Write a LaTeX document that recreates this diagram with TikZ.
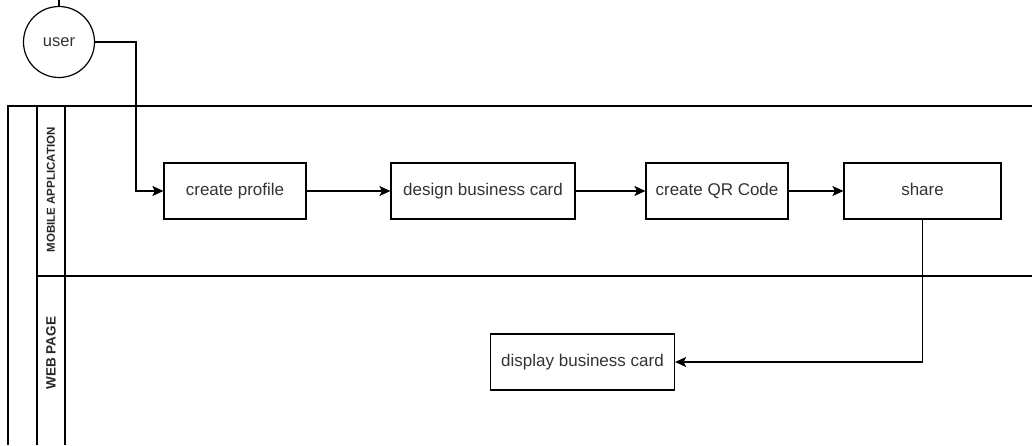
\documentclass[tikz,border=0pt]{standalone}
\usepackage{fontspec}
\setmainfont{Liberation Sans}
\usepackage{xcolor}
\usetikzlibrary{arrows.meta, positioning}

\begin{document}
\begin{tikzpicture}[x=1pt, y=-1pt, line width=1.2pt,
    caixa/.style={draw, minimum height=56pt, inner sep=0pt,
      text height=0.92em, text depth=0.1em,
      font=\fontsize{17}{20}\selectfont, text=black!80},
    seta/.style={-{Stealth[length=11pt, width=10pt, inset=2.5pt]}},
    raia/.style={text=black!85, rotate=90}]
  \useasboundingbox (0,0) rectangle (1032,445);
  % ator
  \node[draw, circle, minimum size=71pt, inner sep=0pt,
    font=\fontsize{16.5}{19}\selectfont, text=black!80] (user) at (59,42) {user};
  \coordinate (topo) at (59,0);
  \draw (topo) -- (user.north);
  % piscina e raias
  \draw (1032,106) -- (8,106) -- (8,445);
  \draw (37,106) -- (37,445);
  \draw (65,106) -- (65,445);
  \draw (37,276) -- (1032,276);
  \node[raia, font=\bfseries\fontsize{11.5}{13}\selectfont] (mobile) at (51,190) {MOBILE APPLICATION};
  \node[raia, font=\bfseries\fontsize{13.5}{15}\selectfont] (web) at (51,353) {WEB PAGE};
  % caixas
  \node[caixa, minimum width=142pt] (profile) at (235,191) {create profile};
  \node[caixa, minimum width=184pt] (design) at (483,191) {design business card};
  \node[caixa, minimum width=142pt] (qr) at (717,191) {create QR Code};
  \node[caixa, minimum width=157pt] (share) at (922.5,191) {share};
  \node[caixa, minimum width=184pt] (display) at (582.5,362) {display business card};
  % fluxo
  \draw[seta] (user.east) -| (136,191) -- (profile.west);
  \draw[seta] (profile) -- (design);
  \draw[seta] (design) -- (qr);
  \draw[seta] (qr) -- (share);
  \draw[seta] (share.south) |- (display.east);
\end{tikzpicture}
\end{document}
